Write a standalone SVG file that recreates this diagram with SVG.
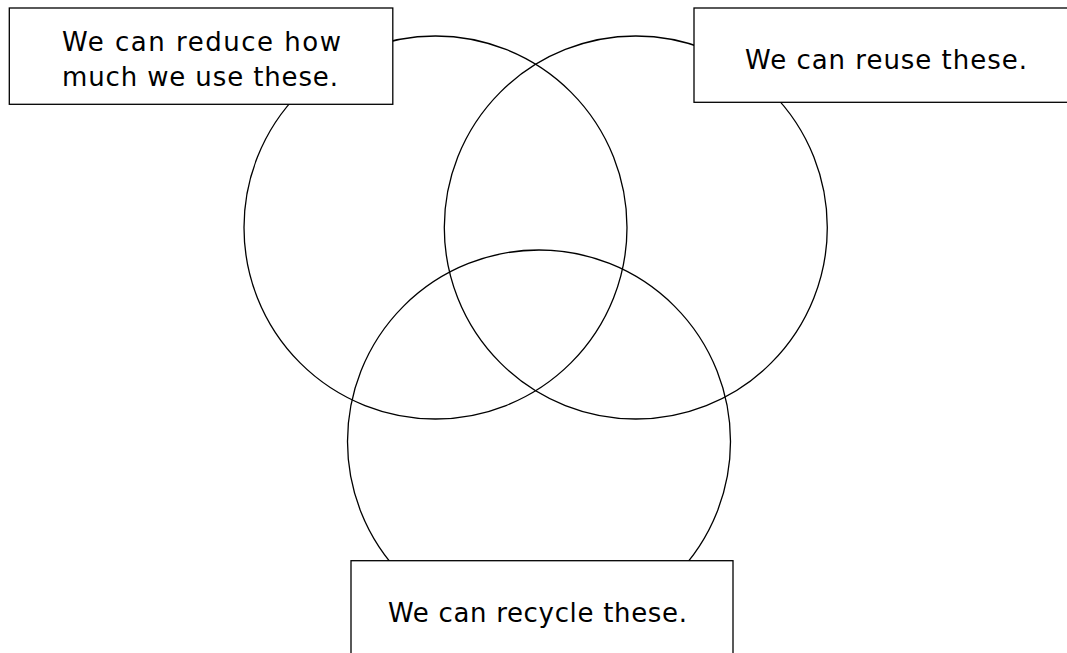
<svg xmlns="http://www.w3.org/2000/svg" width="1067" height="653" viewBox="0 0 1067 653">
<style>
.c{fill:none;stroke:#000;stroke-width:1.3}
.b{fill:#fff;stroke:#000;stroke-width:1.3}
.t{font-family:"DejaVu Sans","Liberation Sans",sans-serif;font-size:26px;fill:#000}
</style>
<rect width="1067" height="653" fill="#fff"/>
<g id="circles">
<circle id="reduce-circle" class="c" cx="435.5" cy="227.5" r="191.5"/>
<circle id="reuse-circle" class="c" cx="635.8" cy="227.5" r="191.5"/>
<circle id="recycle-circle" class="c" cx="539" cy="441.5" r="191.5"/>
</g>
<g id="connectors"></g>
<g id="reduce">
<rect class="b" x="9.3" y="8" width="383.5" height="96.3"/>
<text class="t" x="62" y="51" textLength="279" lengthAdjust="spacing">We can reduce how</text>
<text class="t" x="62" y="86" textLength="276" lengthAdjust="spacing">much we use these.</text>
</g>
<g id="reuse">
<rect class="b" x="694" y="8" width="384" height="94.3"/>
<text class="t" x="745" y="69" textLength="282" lengthAdjust="spacing">We can reuse these.</text>
</g>
<g id="recycle">
<rect class="b" x="351" y="560.7" width="382" height="96"/>
<text class="t" x="388" y="622" textLength="299" lengthAdjust="spacing">We can recycle these.</text>
</g>
</svg>
